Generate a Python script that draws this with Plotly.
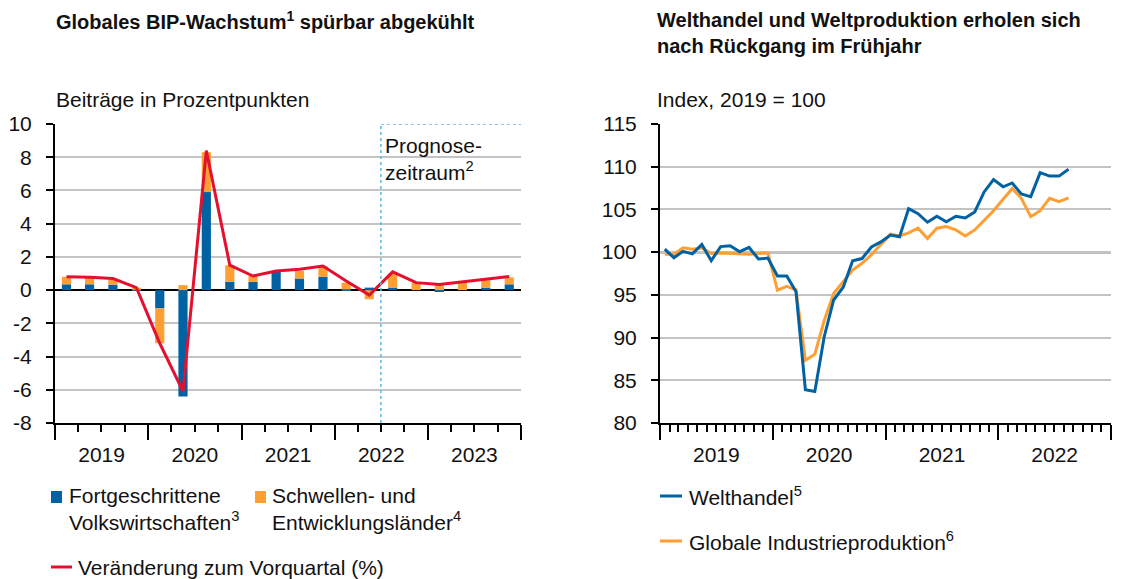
import pandas as pd
import plotly.graph_objects as go

# ---------------- data: left chart (quarterly) ----------------
quarters = ["2019Q1", "2019Q2", "2019Q3", "2019Q4",
            "2020Q1", "2020Q2", "2020Q3", "2020Q4",
            "2021Q1", "2021Q2", "2021Q3", "2021Q4",
            "2022Q1", "2022Q2", "2022Q3", "2022Q4",
            "2023Q1", "2023Q2", "2023Q3", "2023Q4"]
advanced = [0.35, 0.35, 0.33, 0.02,
            -1.1, -6.4, 5.9, 0.5,
            0.5, 1.1, 0.7, 0.8,
            0.05, 0.15, 0.15, 0.0,
            -0.1, 0.0, 0.15, 0.35]
emerging = [0.45, 0.4, 0.32, 0.13,
            -2.1, 0.3, 2.4, 1.0,
            0.35, 0.05, 0.45, 0.65,
            0.4, -0.55, 0.85, 0.45,
            0.3, 0.45, 0.45, 0.42]
gdp_change = [0.8, 0.78, 0.7, 0.15,
              -3.2, -6.1, 8.4, 1.5,
              0.85, 1.15, 1.25, 1.45,
              0.55, -0.3, 1.1, 0.45,
              0.34, 0.5, 0.65, 0.82]
forecast_start = "2022-07-01"
left_ticks = [-8, -6, -4, -2, 0, 2, 4, 6, 8, 10]
left_tick_labels = ["-8", "-6", "-4", "-2", "0", "2", "4", "6", "8", "10"]

# ---------------- data: right chart (monthly) ----------------
months = pd.period_range("2019-01", "2022-08", freq="M").strftime("%Y-%m").tolist()
world_trade = [100.35, 99.35, 100.1, 99.8, 100.9, 99.0, 100.65, 100.75, 100.05, 100.55, 99.2, 99.3,
               97.2, 97.2, 95.4, 83.9, 83.7, 90.1, 94.4, 95.9, 99.0, 99.25, 100.6, 101.2,
               102.0, 101.8, 105.1, 104.5, 103.5, 104.2, 103.55, 104.2, 104.0, 104.7, 107.05, 108.5,
               107.65, 108.1, 106.8, 106.5, 109.3, 108.9, 108.9, 109.7]
industrial = [99.75, 99.75, 100.5, 100.35, 100.5, 99.85, 99.9, 99.85, 99.8, 99.75, 99.85, 99.9,
              95.55, 96.0, 95.6, 87.35, 88.05, 92.0, 95.15, 96.5, 97.9, 98.7, 99.7, 100.9,
              102.1, 101.9, 102.25, 102.8, 101.6, 102.8, 103.0, 102.6, 101.9, 102.6, 103.75, 104.85,
              106.2, 107.45, 106.3, 104.15, 104.85, 106.3, 105.9, 106.35]

# ---------------- styling ----------------
BLUE = "#0061a3"
ORANGE = "#ff9f33"
RED = "#e3102f"
DASH_BLUE = "#5bb8e6"
GRID = "#c4c4c4"
TXT = "#111111"
FONT = "Liberation Sans, Arial, sans-serif"
FS = 21
TITLE_FS = 20
OFF = 8                      # default page margin around the plot div
W, H = 1124 - OFF, 579 - OFF


def px_x(x):
    return (x - OFF) / W


def px_y(y):
    return 1 - (y - OFF) / H


# mid-period positions
qp = pd.PeriodIndex(quarters, freq="Q")
qdates = qp.start_time + (qp.end_time - qp.start_time) / 2
mp = pd.PeriodIndex(months, freq="M")
mdates = mp.start_time + (mp.end_time - mp.start_time) / 2
bar_width_ms = 36 * 24 * 3600 * 1000

fig = go.Figure()
fig.add_bar(x=qdates, y=advanced, width=bar_width_ms, marker=dict(color=BLUE, line=dict(width=0)),
            name="Fortgeschrittene Volkswirtschaften", showlegend=False, xaxis="x", yaxis="y")
fig.add_bar(x=qdates, y=emerging, width=bar_width_ms, marker=dict(color=ORANGE, line=dict(width=0)),
            name="Schwellen- und Entwicklungsländer", showlegend=False, xaxis="x", yaxis="y")
fig.add_scatter(x=qdates, y=gdp_change, mode="lines", line=dict(color=RED, width=3),
                name="Veränderung zum Vorquartal (%)", showlegend=False, xaxis="x", yaxis="y")
fig.add_scatter(x=mdates, y=industrial, mode="lines", line=dict(color=ORANGE, width=3),
                name="Globale Industrieproduktion", showlegend=False, xaxis="x2", yaxis="y2")
fig.add_scatter(x=mdates, y=world_trade, mode="lines", line=dict(color=BLUE, width=3),
                name="Welthandel", showlegend=False, xaxis="x2", yaxis="y2")

ydom = [px_y(423), px_y(124)]
common_x = dict(type="date", dtick="M12", tickformat="%Y", ticklabelmode="period",
                ticks="outside", ticklen=15, tickwidth=2, tickcolor="black",
                showline=True, linecolor="black", linewidth=2, showgrid=False, zeroline=False,
                tickfont=dict(size=FS, color=TXT), ticklabelstandoff=-3, fixedrange=True,
                automargin=False)
common_y = dict(ticks="outside", ticklen=7, tickwidth=2, tickcolor="black",
                showline=True, linecolor="black", linewidth=2,
                showgrid=True, gridcolor=GRID, gridwidth=1.5,
                tickfont=dict(size=FS, color=TXT), ticklabelstandoff=10, domain=ydom,
                automargin=False, fixedrange=True)

fig.update_layout(
    width=W, height=H, margin=dict(l=0, r=0, t=0, b=0, autoexpand=False),
    paper_bgcolor="white", plot_bgcolor="white",
    font=dict(family=FONT, size=FS, color=TXT),
    barmode="relative", showlegend=False,
    xaxis=dict(domain=[px_x(55), px_x(521)], anchor="y",
               range=["2019-01-01", "2024-01-01"], tick0="2019-01-01",
               minor=dict(dtick="M3", tick0="2019-01-01", ticks="outside", ticklen=7,
                          tickwidth=2, tickcolor="black", showgrid=False),
               **common_x),
    yaxis=dict(anchor="x", range=[-8, 10], tickmode="array", tickvals=left_ticks,
               ticktext=left_tick_labels, zeroline=True, zerolinecolor="black",
               zerolinewidth=2, **common_y),
    xaxis2=dict(domain=[px_x(660), px_x(1111)], anchor="y2",
                range=["2019-01-01", "2023-01-01"], tick0="2019-01-01",
                minor=dict(dtick="M1", tick0="2019-01-01", ticks="outside", ticklen=7,
                           tickwidth=2, tickcolor="black", showgrid=False),
                **common_x),
    yaxis2=dict(anchor="x2", range=[80, 115], dtick=5, zeroline=False, **common_y),
)

# reference line at 100 and forecast frame
fig.add_shape(type="line", xref="x2 domain", yref="y2", x0=0, x1=1, y0=100, y1=100,
              line=dict(color="black", width=2), layer="below")
fig.add_shape(type="line", xref="x", yref="y", x0=forecast_start, x1=forecast_start, y0=-8, y1=10,
              line=dict(color=DASH_BLUE, width=1.5, dash="3px,3px"))
fig.add_shape(type="line", xref="x", yref="y", x0=forecast_start, x1="2024-01-01", y0=10, y1=10,
              line=dict(color=DASH_BLUE, width=1.5, dash="3px,3px"))
fig.add_annotation(xref="x", yref="paper", x=forecast_start, y=px_y(159), xanchor="left", yanchor="middle",
                   xshift=2, text="Prognose-<br>zeitraum<sup>2</sup>", showarrow=False, align="left",
                   font=dict(size=FS, color=TXT))


def text(x, y, s, size=FS, bold=False, anchor="middle"):
    if bold:
        s = "<b>" + s + "</b>"
    fig.add_annotation(xref="paper", yref="paper", x=px_x(x), y=px_y(y), xanchor="left",
                       yanchor=anchor, text=s, showarrow=False, align="left",
                       font=dict(size=size, color=TXT, family=FONT))


# titles
text(54, 21, "Globales BIP-Wachstum<sup>1</sup> spürbar abgekühlt", size=TITLE_FS, bold=True)
text(655, 33, "Welthandel und Weltproduktion erholen sich<br>nach Rückgang im Frühjahr", size=TITLE_FS, bold=True)
text(54, 100, "Beiträge in Prozentpunkten")
text(655, 100, "Index, 2019 = 100")

# legend keys
fig.add_shape(type="rect", xref="paper", yref="paper", x0=px_x(51), x1=px_x(62), y0=px_y(503), y1=px_y(491),
              fillcolor=BLUE, line=dict(width=0))
fig.add_shape(type="rect", xref="paper", yref="paper", x0=px_x(255), x1=px_x(266), y0=px_y(503), y1=px_y(491),
              fillcolor=ORANGE, line=dict(width=0))
fig.add_shape(type="line", xref="paper", yref="paper", x0=px_x(51), x1=px_x(72), y0=px_y(567), y1=px_y(567),
              line=dict(color=RED, width=3))
fig.add_shape(type="line", xref="paper", yref="paper", x0=px_x(660), x1=px_x(682), y0=px_y(496), y1=px_y(496),
              line=dict(color=BLUE, width=3))
fig.add_shape(type="line", xref="paper", yref="paper", x0=px_x(660), x1=px_x(682), y0=px_y(541), y1=px_y(541),
              line=dict(color=ORANGE, width=3))
text(67, 509, "Fortgeschrittene<br>Volkswirtschaften<sup>3</sup>")
text(270, 509, "Schwellen- und<br>Entwicklungsländer<sup>4</sup>")
text(76, 567, "Veränderung zum Vorquartal (%)")
text(687, 496, "Welthandel<sup>5</sup>")
text(687, 541, "Globale Industrieproduktion<sup>6</sup>")

fig.write_html("out.html")
